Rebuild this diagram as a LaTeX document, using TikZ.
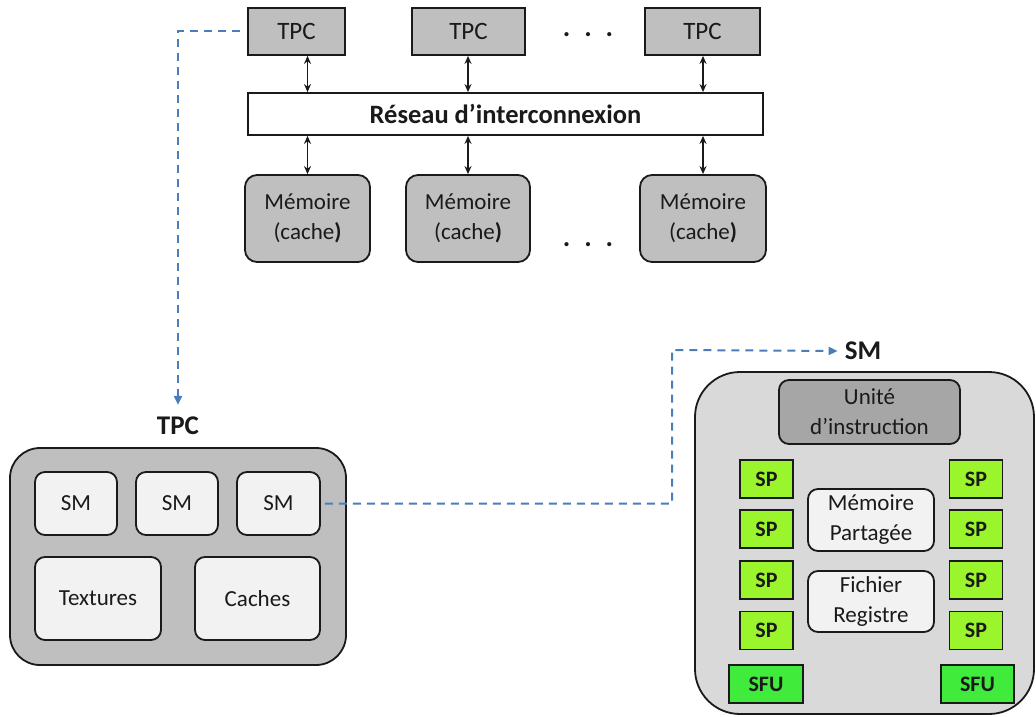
\documentclass[tikz,border=0pt]{standalone}
\usepackage{fontspec}
\setmainfont{Carlito}
\usepackage{tikz}
\usetikzlibrary{calc, arrows.meta}
\usepackage{xcolor}

\definecolor{boxgray}{HTML}{BFBFBF}
\definecolor{smgray}{HTML}{D9D9D9}
\definecolor{unitgray}{HTML}{A6A6A6}
\definecolor{paper}{HTML}{F2F2F2}
\definecolor{spgreen}{RGB}{155,245,45}
\definecolor{sfugreen}{RGB}{64,235,60}
\definecolor{linkblue}{HTML}{4A7EBB}
\definecolor{ink}{HTML}{1A1A1A}

\begin{document}
\begin{tikzpicture}[x=1pt, y=-1pt]

        % Styles for the blocks
        \tikzset{
            block/.style={draw=ink, line width=1.8pt, inner sep=0pt, align=center, text=ink,
                font=\fontsize{23}{30}\selectfont},
            tpcbox/.style={block, fill=boxgray, minimum height=47, font=\fontsize{25}{30}\selectfont},
            membox/.style={block, fill=boxgray, rounded corners=12, minimum height=87},
            inner/.style={block, fill=paper, rounded corners=10},
            spbox/.style={block, fill=spgreen, minimum width=53, minimum height=38,
                font=\fontsize{22}{26}\selectfont\bfseries},
            sfubox/.style={spbox, fill=sfugreen},
            title/.style={inner sep=0pt, text=ink, font=\fontsize{27}{32}\selectfont\bfseries},
            dots/.style={inner sep=0pt, text=ink, font=\fontsize{28}{32}\selectfont\bfseries},
            biarrow/.style={{Stealth[length=8pt,width=7pt]}-{Stealth[length=8pt,width=7pt]}, line width=1.5pt, ink},
            link/.style={linkblue, line width=2pt, dash pattern=on 8pt off 6pt, -{Triangle[length=9pt,width=8pt]}}
        }

        \useasboundingbox (0,0) rectangle (1036,717);

        % =================================================================
        % 1. TPCs, interconnect and memories
        % =================================================================

        \node[tpcbox, minimum width=97]  (tpcA) at (296.5,31.5) {TPC};
        \node[tpcbox, minimum width=113] (tpcB) at (468.5,31.5) {TPC};
        \node[tpcbox, minimum width=115] (tpcC) at (702.5,31.5) {TPC};
        \node[dots] (dotsTop) at (588,35) {.\hspace{14pt}.\hspace{14pt}.};

        \node[block, fill=white, minimum width=515, minimum height=42,
              font=\fontsize{26.5}{30}\selectfont\bfseries] (reseau) at (505.5,114) {Réseau d’interconnexion};

        \node[membox, minimum width=125] (memA) at (307.5,218.5) {Mémoire\\(cache\textbf{)}};
        \node[membox, minimum width=124] (memB) at (468,218.5)   {Mémoire\\(cache\textbf{)}};
        \node[membox, minimum width=126] (memC) at (703,218.5)   {Mémoire\\(cache\textbf{)}};
        \node[dots] (dotsMem) at (588,245) {.\hspace{14pt}.\hspace{14pt}.};

        % Arrows to and from the network
        \draw[biarrow] (memA.north |- tpcA.south) -- (memA.north |- reseau.north);
        \draw[biarrow] (memB.north |- tpcB.south) -- (memB.north |- reseau.north);
        \draw[biarrow] (memC.north |- tpcC.south) -- (memC.north |- reseau.north);
        \draw[biarrow] (memA.north |- reseau.south) -- (memA.north);
        \draw[biarrow] (memB.north |- reseau.south) -- (memB.north);
        \draw[biarrow] (memC.north |- reseau.south) -- (memC.north);

        % =================================================================
        % 2. Inside a TPC
        % =================================================================

        \node[title] (tpcTitle) at (178,426) {TPC};
        \node[block, fill=boxgray, rounded corners=30, minimum width=336, minimum height=217] (tpcBig) at (178,556.5) {};

        \node[inner, minimum width=82, minimum height=63] (smA) at (76,503.5)   {SM};
        \node[inner, minimum width=82, minimum height=63] (smB) at (177,503.5)  {SM};
        \node[inner, minimum width=83, minimum height=63] (smC) at (278.5,503.5) {SM};
        \node[inner, minimum width=126, minimum height=83] (textures) at (98,598.5)  {Textures};
        \node[inner, minimum width=125, minimum height=83] (caches)   at (257.5,598.5) {Caches};

        \draw[link] ([xshift=-7pt]tpcA.west) -| ([yshift=12pt]tpcTitle.north);

        % =================================================================
        % 3. Inside an SM
        % =================================================================

        \node[title] (smTitle) at (863,351) {SM};
        \node[block, fill=smgray, rounded corners=45, minimum width=339, minimum height=342] (smBig) at (864.5,543) {};

        \node[block, fill=unitgray, rounded corners=10, minimum width=181, minimum height=64] (unite) at (869.5,412) {Unité\\d’instruction};

        \node[spbox] (spA) at (766.5,479)   {SP};
        \node[spbox] (spB) at (766.5,529)   {SP};
        \node[spbox] (spC) at (766.5,580)   {SP};
        \node[spbox] (spD) at (766.5,630.5) {SP};
        \node[spbox] (spE) at (976,479)     {SP};
        \node[spbox] (spF) at (976,529)     {SP};
        \node[spbox] (spG) at (976,580)     {SP};
        \node[spbox] (spH) at (976,630.5)   {SP};
        \node[sfubox, minimum width=74] (sfuA) at (766,684)   {SFU};
        \node[sfubox, minimum width=73] (sfuB) at (977.5,684) {SFU};

        \node[inner, minimum width=126, minimum height=62] (partagee) at (871,520)   {Mémoire\\Partagée};
        \node[inner, minimum width=126, minimum height=61] (registre) at (871,601.5) {Fichier\\Registre};

        \coordinate (bend) at (672,350);
        \draw[link] ([xshift=4pt]smC.east) -| (bend) -- ([xshift=-7pt]smTitle.west);

    \end{tikzpicture}
\end{document}
